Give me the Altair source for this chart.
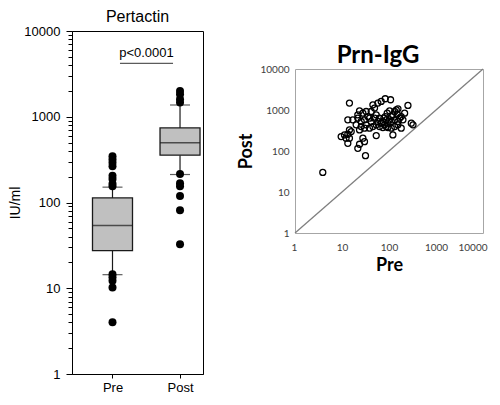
import altair as alt
import pandas as pd

# ---------------- Left panel: Pertactin box plot (IU/ml) ----------------
groups = ["Pre", "Post"]
box_q1 = [27.4, 356]
box_median = [54, 496]
box_q3 = [113, 741]
whisker_low = [14.4, 212]
whisker_high = [151, 1371]
pre_outliers = [4.0, 10.2, 12.2, 13.4, 14.6, 155, 165, 188, 205, 264, 291, 318, 346]
post_outliers = [32.5, 81, 119, 155, 168, 215, 1468, 1604, 1829, 1995]

sig_from = ["Pre"]
sig_to = ["Post"]
sig_level = [4200]
sig_text = ["p<0.0001"]

ticks_major = [1, 10, 100, 1000, 10000]
ticks_all = [1, 2, 3, 4, 5, 6, 7, 8, 9,
             10, 20, 30, 40, 50, 60, 70, 80, 90,
             100, 200, 300, 400, 500, 600, 700, 800, 900,
             1000, 2000, 3000, 4000, 5000, 6000, 7000, 8000, 9000,
             10000]

# ---------------- Right panel: Prn-IgG Pre vs Post ----------------
prn_pre = [14.4, 3.9, 31.6, 45.4, 58.0, 68.2, 83.2, 108, 49.2, 41.8,
           23.6, 21.7, 27.8, 32.7, 35.5, 38.5, 13.3, 17.0, 21.7, 25.6,
           30.1, 20.0, 25.6, 30.1, 23.6, 32.7, 38.5, 45.4, 53.5, 58.0,
           63.0, 49.2, 53.5, 9.6, 11.3, 13.3, 14.4, 12.2, 13.3, 14.4,
           15.7, 21.7, 23.6, 27.8, 30.1, 53.5, 74.1, 80.4, 87.3, 94.6,
           103, 112, 121, 132, 143, 155, 150, 168, 155, 132,
           112, 94.6, 121, 182, 198, 215, 253, 298, 324, 103,
           91.6, 83.2, 77.8, 68.2, 74.1, 155, 182, 112, 132, 87.3,
           63.0, 41.8]
prn_post = [1472, 30, 77, 1340, 1472, 1618, 1879, 1778, 1112, 920,
            955, 762, 838, 920, 693, 632, 575, 575, 632, 524,
            575, 434, 394, 360, 327, 434, 360, 394, 434, 524,
            632, 632, 762, 225, 247, 256, 205, 205, 154, 327,
            298, 116, 146, 205, 169, 238, 524, 434, 394, 476,
            575, 693, 762, 920, 1012, 1069, 793, 632, 524, 394,
            360, 373, 247, 693, 575, 838, 1291, 476, 434, 955,
            838, 693, 632, 476, 373, 434, 360, 524, 575, 575,
            394, 524]
diag_vals = [1, 10000]

FONT_L = "Liberation Sans"
FONT_R = "Lato"
INK = "#1a1a1a"

box_df = pd.DataFrame({"group": groups, "q1": box_q1, "median": box_median,
                       "q3": box_q3, "lo": whisker_low, "hi": whisker_high})
out_df = pd.DataFrame({"group": ["Pre"] * len(pre_outliers) + ["Post"] * len(post_outliers),
                       "value": pre_outliers + post_outliers})
sig_df = pd.DataFrame({"start": sig_from, "end": sig_to, "level": sig_level, "label": sig_text})

is_major = "indexof([1, 10, 100, 1000, 10000], datum.value) >= 0"
x_scale = alt.Scale(type="point", domain=groups, padding=0.47, align=0.638)
y_scale = alt.Scale(type="log", domain=[1, 10000])
x_axis = alt.Axis(title=None, labelFont=FONT_L, labelFontSize=13, labelColor="black",
                  labelAngle=0, labelPadding=3, tickSize=4, tickColor="black",
                  domainColor="black", grid=False)
y_axis = alt.Axis(title="IU/ml", values=ticks_all, format="d",
                  labelExpr=f"{is_major} ? datum.label : ''",
                  tickSize={"condition": {"test": is_major, "value": 6}, "value": 4},
                  tickColor="black", domainColor="black", grid=False,
                  labelFont=FONT_L, labelFontSize=13, labelColor="black",
                  labelPadding=6, labelOverlap=False,
                  titleFont=FONT_L, titleFontSize=14, titleFontWeight="normal",
                  titleColor="black", titlePadding=1)


def xenc(field):
    return alt.X(f"{field}:N", scale=x_scale, axis=x_axis, sort=groups)


def yenc(field):
    return alt.Y(f"{field}:Q", scale=y_scale, axis=y_axis)


base_box = alt.Chart(box_df)
whisk_lo = base_box.mark_rule(color=INK, strokeWidth=1.2).encode(x=xenc("group"), y=yenc("lo"), y2="q1")
whisk_hi = base_box.mark_rule(color=INK, strokeWidth=1.2).encode(x=xenc("group"), y=yenc("q3"), y2="hi")
cap_lo = base_box.mark_tick(color=INK, size=20, thickness=1.2).encode(x=xenc("group"), y=yenc("lo"))
cap_hi = base_box.mark_tick(color=INK, size=20, thickness=1.2).encode(x=xenc("group"), y=yenc("hi"))
boxes = base_box.mark_bar(size=40, fill="#c0c0c0", stroke=INK, strokeWidth=1.3).encode(
    x=xenc("group"), y=yenc("q1"), y2="q3")
medians = base_box.mark_tick(color=INK, size=40, thickness=1.5).encode(x=xenc("group"), y=yenc("median"))
outliers = alt.Chart(out_df).mark_circle(size=64, color="black", opacity=1).encode(
    x=xenc("group"), y=yenc("value"))
sig_rule = alt.Chart(sig_df).mark_rule(color="#333333", strokeWidth=1, xOffset=7.5, x2Offset=-7).encode(
    x=xenc("start"), x2="end", y=yenc("level"))
sig_label = alt.Chart(sig_df).mark_text(font=FONT_L, fontSize=13, color="black", align="center",
                                        baseline="bottom", dx=34, dy=-3).encode(
    x=xenc("start"), y=yenc("level"), text="label:N")

left = alt.layer(whisk_lo, whisk_hi, cap_lo, cap_hi, boxes, medians, outliers, sig_rule, sig_label).properties(
    width=131, height=343,
    title=alt.TitleParams("Pertactin", font=FONT_L, fontSize=16, fontWeight="normal",
                          color="black", offset=0),
    view=alt.ViewBackground(stroke="black", strokeWidth=1),
)

# ---------------- right panel ----------------
sc_df = pd.DataFrame({"pre": prn_pre, "post": prn_post})
diag_df = pd.DataFrame({"pre": diag_vals, "post": diag_vals})
r_scale = alt.Scale(type="log", domain=[1, 10000])
rx_axis = alt.Axis(title="Pre", values=ticks_major, format="d", ticks=False, domain=False, grid=False,
                   labelFont=FONT_R, labelFontSize=10, labelColor="#404040", labelPadding=9,
                   labelFlush=True, labelFlushOffset=4, labelOverlap=False,
                   titleFont=FONT_R, titleFontSize=18, titleFontWeight="bold", titleColor="black",
                   titlePadding=4)
ry_axis = alt.Axis(title="Post", values=ticks_major, format="d", ticks=False, domain=False, grid=False,
                   labelFont=FONT_R, labelFontSize=10, labelColor="#404040", labelPadding=6,
                   labelFlush=False, labelOverlap=False,
                   titleFont=FONT_R, titleFontSize=18, titleFontWeight="bold", titleColor="black",
                   titlePadding=4)

diag = alt.Chart(diag_df).mark_line(color="#7f7f7f", strokeWidth=1.3).encode(
    x=alt.X("pre:Q", scale=r_scale, axis=rx_axis),
    y=alt.Y("post:Q", scale=r_scale, axis=ry_axis))
pts = alt.Chart(sc_df).mark_point(shape="circle", filled=False, size=36, color="black",
                                  strokeWidth=1.3, opacity=1).encode(
    x=alt.X("pre:Q", scale=r_scale, axis=rx_axis),
    y=alt.Y("post:Q", scale=r_scale, axis=ry_axis))

right = alt.layer(diag, pts).properties(
    width=188, height=164,
    title=alt.TitleParams("Prn-IgG", font=FONT_R, fontSize=24, fontWeight="bold",
                          color="black", offset=-4, dx=-11),
    view=alt.ViewBackground(stroke="#a6a6a6", strokeWidth=1),
)

spacer = alt.Chart(pd.DataFrame({"s": [0]})).mark_point(opacity=0).encode(
    x=alt.X("s:Q", axis=None), y=alt.Y("s:Q", axis=None)
).properties(width=1, height=11, view=alt.ViewBackground(stroke="transparent"))

chart = alt.hconcat(left, alt.vconcat(spacer, right, spacing=0), spacing=33).properties(
    padding={"left": 0, "top": 0, "right": 0, "bottom": 0}
).configure(background="white")

chart.save("out.html", embed_options={"renderer": "svg", "actions": False})
